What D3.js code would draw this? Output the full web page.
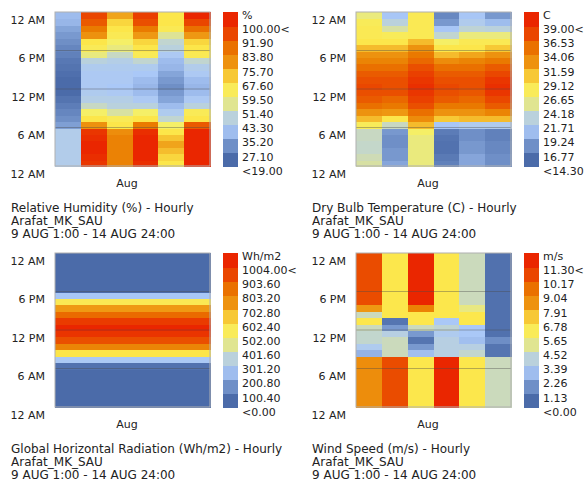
<!DOCTYPE html>
<html>
<head>
<meta charset="utf-8">
<script src="https://cdn.jsdelivr.net/npm/d3@7"></script>
<style>
  body { margin: 0; background: #fff; }
  text { font-family: "DejaVu Sans", Verdana, sans-serif; fill: #222; }
</style>
</head>
<body>
<div id="chart"></div>
<script>
// one row of 24 hourly values (1:00 .. 24:00) per day, 9-14 Aug
const days = ["9 AUG", "10 AUG", "11 AUG", "12 AUG", "13 AUG", "14 AUG"];
const yTickLabels = ["12 AM", "6 AM", "12 PM", "6 PM", "12 AM"];
const yTickHours = [0, 6, 12, 18, 24];

const humidity = [
  [40,40,40,40,40,40,30,27,25,23,21,19,19,19,20,21,22,24,25,27,29,31,34,35],
  [96,98,100,100,98,96,76,64,55,47,41,39,38,38,38,39,43,53,60,64,76,82,88,92],
  [80,80,80,80,80,77,64,60,50,43,41,38,37,38,38,39,41,47,53,55,61,64,66,72],
  [98,100,100,100,100,98,82,64,55,43,38,35,34,35,37,39,46,60,64,66,74,82,90,94],
  [64,66,69,72,68,64,55,46,39,35,31,29,27,29,31,34,35,38,43,46,51,61,64,64],
  [100,100,100,100,100,100,88,64,60,43,38,35,34,35,38,40,46,61,64,66,74,84,92,100]
];

const temperature = [
  [23.7,23.2,22.7,22.7,22.9,22.9,26.6,29.6,31.6,34.1,35.3,36.0,36.5,36.0,35.3,34.1,32.8,31.6,29.6,27.9,27.1,27.1,26.6,24.7],
  [18.0,17.3,17.3,16.8,16.8,17.3,22.9,27.9,31.1,33.6,34.6,36.0,36.0,36.0,35.3,34.1,32.8,31.6,29.6,27.9,26.6,23.7,21.7,19.7],
  [24.7,24.7,24.7,24.7,24.7,25.4,29.6,32.1,34.1,36.0,37.0,37.8,38.3,37.8,37.0,36.0,34.6,33.6,31.6,29.6,27.1,27.1,27.1,27.1],
  [15.8,15.3,14.8,14.8,15.0,15.5,19.7,29.1,31.6,33.6,35.3,36.0,36.5,36.0,35.3,34.1,32.1,29.6,27.9,25.4,22.5,19.7,17.3,16.3],
  [18.0,18.0,17.3,17.3,16.8,16.8,20.5,29.6,31.6,33.6,34.6,35.5,36.0,36.0,35.3,34.1,32.8,30.4,27.9,27.1,24.7,22.2,20.5,19.7],
  [16.8,16.8,16.3,16.3,15.8,15.8,20.5,29.6,32.8,35.3,36.5,37.8,38.3,37.8,36.5,35.3,33.6,31.6,29.1,27.1,24.7,21.7,19.2,17.3]
];

const radiation = [
  [0,0,0,0,0,0,20,230,560,750,880,960,1004,940,820,680,520,220,0,0,0,0,0,0],
  [0,0,0,0,0,0,20,230,560,750,880,960,1004,940,820,680,520,220,0,0,0,0,0,0],
  [0,0,0,0,0,0,20,230,560,750,880,960,1004,940,820,680,520,220,0,0,0,0,0,0],
  [0,0,0,0,0,0,20,230,560,750,880,960,1004,940,820,680,520,220,0,0,0,0,0,0],
  [0,0,0,0,0,0,20,230,560,750,880,960,1004,940,820,680,520,220,0,0,0,0,0,0],
  [0,0,0,0,0,0,20,230,560,750,880,960,1004,940,820,680,520,220,0,0,0,0,0,0]
];

const windSpeed = [
  [8.1,8.1,8.1,8.1,8.1,8.1,8.1,8.1,2.0,2.8,3.8,3.8,4.0,6.2,4.0,7.7,10,10,10,10,10,10,10,10],
  [10,10,10,10,10,10,10,10,4.0,4.0,4.0,3.2,1.4,0.3,6.2,6.2,6.2,6.2,6.2,6.2,6.2,6.2,6.2,6.2],
  [6.2,6.2,6.2,6.2,6.2,6.2,6.2,6.2,2.3,1.4,0.3,1.4,4.0,6.2,6.2,8.5,11.3,11.3,11.3,11.3,11.3,11.3,11.3,11.3],
  [11.3,11.3,11.3,11.3,11.3,11.3,11.3,11.3,3.2,3.2,3.2,2.8,3.6,2.5,6.2,6.2,6.2,6.2,6.2,6.2,6.2,6.2,6.2,6.2],
  [6.2,6.2,6.2,6.2,6.2,6.2,6.2,6.2,3.8,3.2,2.3,2.5,2.5,6.2,6.2,4.7,4.0,4.0,4.0,4.0,4.0,4.0,4.0,4.0],
  [4.0,4.0,4.0,4.0,4.0,4.0,4.0,4.0,0.3,0.3,1.1,0.2,0.2,0.2,0.2,0.2,0.2,0.2,0.2,0.2,0.2,0.2,0.2,0.2]
];

// ladybug default legend colours
const legendColors = ["#4b6ba9", "#7393ca", "#aac8f7", "#c1d5d0", "#f5ef67",
                      "#fce64a", "#ef9c15", "#ea7b00", "#ea4a00", "#ea2600"];

const panels = [
  { data: humidity, unit: "%", min: 19, max: 100, title: "Relative Humidity (%) - Hourly", ox: 0, oy: 0 },
  { data: temperature, unit: "C", min: 14.3, max: 39, title: "Dry Bulb Temperature (C) - Hourly", ox: 301, oy: 0 },
  { data: radiation, unit: "Wh/m2", min: 0, max: 1004, title: "Global Horizontal Radiation (Wh/m2) - Hourly", ox: 0, oy: 241 },
  { data: windSpeed, unit: "m/s", min: 0, max: 11.3, title: "Wind Speed (m/s) - Hourly", ox: 301, oy: 241 }
];

const W = 588, H = 484;
const plotW = 155, plotH = 154;

const svg = d3.select("#chart").append("svg")
  .attr("width", W)
  .attr("height", H);

panels.forEach(p => {
  const g = svg.append("g").attr("transform", `translate(${p.ox},${p.oy})`);
  const px = 55, py = 12;

  const color = d3.scaleLinear()
    .domain(legendColors.map((c, i) => p.min + (p.max - p.min) * i / (legendColors.length - 1)))
    .range(legendColors)
    .interpolate(d3.interpolateRgb)
    .clamp(true);

  const x = d3.scaleBand().domain(days).range([px, px + plotW]);
  const y = d3.scaleLinear().domain([0, 24]).range([py + plotH, py]);

  const cells = [];
  p.data.forEach((row, d) => row.forEach((v, h) => cells.push({ day: days[d], hour: h + 1, v })));

  g.selectAll("rect.cell")
    .data(cells)
    .enter()
    .append("rect")
    .attr("class", "cell")
    .attr("x", d => x(d.day))
    .attr("y", d => y(d.hour))
    .attr("width", x.bandwidth() + 1)
    .attr("height", y(0) - y(1) + 1)
    .attr("shape-rendering", "crispEdges")
    .attr("fill", d => color(d.v));

  // hour grid lines at 6 AM / 12 PM / 6 PM
  g.selectAll("line.grid")
    .data([6, 12, 18])
    .enter()
    .append("line")
    .attr("x1", px).attr("x2", px + plotW)
    .attr("y1", d => y(d)).attr("y2", d => y(d))
    .attr("stroke", "#4a4a4a")
    .attr("stroke-opacity", 0.5)
    .attr("stroke-width", 0.8);

  g.append("rect")
    .attr("x", px).attr("y", py)
    .attr("width", plotW).attr("height", plotH)
    .attr("fill", "none")
    .attr("stroke", "#b0b0b0")
    .attr("stroke-width", 1);

  // y labels sit a little below their hour line
  g.selectAll("text.ytick")
    .data(yTickHours)
    .enter()
    .append("text")
    .attr("x", 45)
    .attr("y", d => y(d) + 8)
    .attr("dy", "0.35em")
    .attr("text-anchor", "end")
    .attr("font-size", "11px")
    .text((d, i) => yTickLabels[i]);

  g.append("text")
    .attr("x", 127)
    .attr("y", 183)
    .attr("dy", "0.35em")
    .attr("text-anchor", "middle")
    .attr("font-size", "11px")
    .text("Aug");

  // legend
  const nSeg = 11;
  const segH = plotH / nSeg;
  const steps = d3.range(nSeg).map(i => p.min + (p.max - p.min) * i / (nSeg - 1));
  g.selectAll("rect.leg")
    .data(steps)
    .enter()
    .append("rect")
    .attr("x", 223)
    .attr("y", (d, i) => py + plotH - (i + 1) * segH)
    .attr("width", 15)
    .attr("height", segH + 1)
    .attr("shape-rendering", "crispEdges")
    .attr("fill", d => color(d));

  const labels = [p.unit].concat(steps.slice().reverse().map((v, i, a) => {
    const s = d3.format(".2f")(v);
    if (i === 0) return s + "<";
    if (i === a.length - 1) return "<" + s;
    return s;
  }));
  g.selectAll("text.leg")
    .data(labels)
    .enter()
    .append("text")
    .attr("x", 242)
    .attr("y", (d, i) => py + 3 + i * 14.18)
    .attr("dy", "0.35em")
    .attr("font-size", "11px")
    .text(d => d);

  const caption = [p.title, "Arafat_MK_SAU", "9 AUG 1:00 - 14 AUG 24:00"];
  g.selectAll("text.cap")
    .data(caption)
    .enter()
    .append("text")
    .attr("x", 11)
    .attr("y", (d, i) => 208 + i * 13)
    .attr("dy", "0.35em")
    .attr("font-size", "12px")
    .text(d => d);
});
</script>
</body>
</html>
